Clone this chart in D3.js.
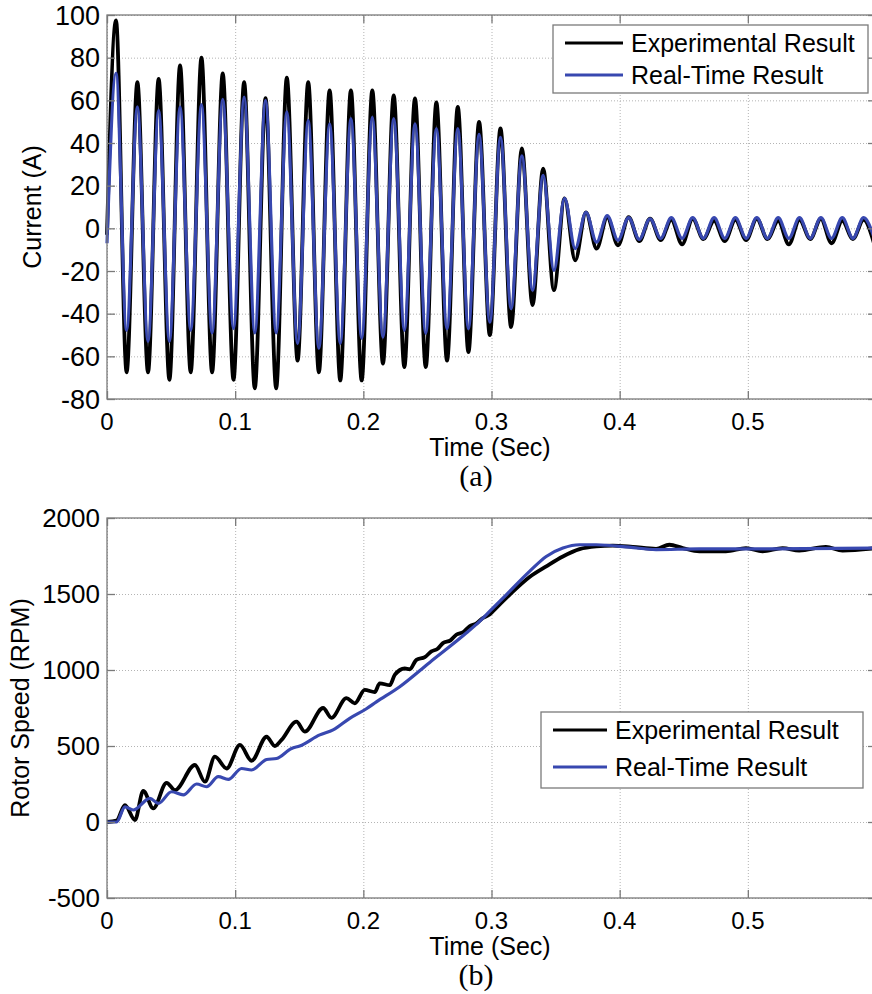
<!DOCTYPE html>
<html>
<head>
<meta charset="utf-8">
<script src="https://cdn.jsdelivr.net/npm/d3@7"></script>
<style>
  body { margin: 0; background: #fff; }
  svg { display: block; font-family: "Liberation Sans", Arial, sans-serif; }
</style>
</head>
<body>
<div id="chart"></div>
<script>
// ---- data ----
// panel (a): extremes of each half cycle (start, then peak / trough alternately)
const currentTime = [0, 0.0070, 0.0153, 0.0237, 0.0320, 0.0403, 0.0487, 0.0570, 0.0653, 0.0737, 0.0820,
  0.0903, 0.0987, 0.1070, 0.1153, 0.1237, 0.1320, 0.1403, 0.1487, 0.1570, 0.1653, 0.1737, 0.1820,
  0.1903, 0.1987, 0.2070, 0.2153, 0.2237, 0.2320, 0.2403, 0.2487, 0.2570, 0.2653, 0.2737, 0.2820,
  0.2903, 0.2987, 0.3070, 0.3153, 0.3237, 0.3320, 0.3403, 0.3487, 0.3570, 0.3653, 0.3737, 0.3820,
  0.3903, 0.3987, 0.4070, 0.4153, 0.4237, 0.4320, 0.4403, 0.4487, 0.4570, 0.4653, 0.4737, 0.4820,
  0.4903, 0.4987, 0.5070, 0.5153, 0.5237, 0.5320, 0.5403, 0.5487, 0.5570, 0.5653, 0.5737, 0.5820,
  0.5903, 0.5987];
const currentExp = [-3, 97.5, -67.5, 68.5, -67.5, 70, -71, 76.4, -67.5, 80, -67.5, 72.6, -71,
  68.5, -75, 61, -75, 70.6, -62, 68.5, -67.5, 64.7, -71.3, 64.7, -71.3, 64.7, -63.4, 62.3, -65,
  60.9, -65, 59, -62, 56.9, -58, 49.9, -50, 46.8, -46.3, 37.5, -36, 28, -29, 14, -15, 7.5, -9.5,
  5.2, -8, 5.2, -6, 4.5, -5.5, 4, -7.5, 4.5, -5, 3.5, -6, 4, -5.5, 4.5, -5, 3.5, -7.5, 4, -5,
  4.5, -7, 3.5, -5, 4, -7.5];
const currentRT = [-7, 72.6, -47.8, 57, -53, 55.3, -53, 57, -47.8, 58, -49, 60.5, -47,
  61.5, -49, 60, -49, 54.6, -54, 50.6, -56.3, 49, -54, 51.4, -51.6, 52, -51, 51.4, -47.8,
  49, -49.2, 46.8, -47, 46.8, -47, 44, -44, 42.7, -37.7, 34, -29, 24.8, -19.7, 14, -9.5, 7.5, -6.5,
  6, -5.6, 5, -5.2, 4.5, -4.7, 5, -4.7, 5, -4.7, 5, -4.7, 5, -4.7, 5, -4.7, 5, -4.7, 5, -4.7,
  5, -4.7, 5, -4.7, 5, -4.7];

// panel (b): rotor speed
const speedExpTime = [0, 0.0075, 0.014, 0.0218, 0.0283, 0.0361, 0.0465, 0.053, 0.0686, 0.0764,
  0.0842, 0.0933, 0.1037, 0.1128, 0.1245, 0.131, 0.1362, 0.1478, 0.1543, 0.1686, 0.1751, 0.1868,
  0.1933, 0.2011, 0.2089, 0.2128, 0.2206, 0.2245, 0.2323, 0.2362, 0.2414, 0.248, 0.2531, 0.258,
  0.2621, 0.268, 0.2725, 0.278, 0.2829, 0.288, 0.2933, 0.2985, 0.3037, 0.3141, 0.3297, 0.3427,
  0.3557, 0.3687, 0.3817, 0.3947, 0.4102, 0.4284, 0.4388, 0.4492, 0.4622, 0.4829, 0.4986, 0.5115,
  0.5271, 0.5401, 0.5609, 0.5739, 0.6];
const speedExp = [0, 10, 111, 13, 205, 90, 258, 210, 375, 265, 430, 352, 507, 403, 561, 500, 540,
  660, 594, 750, 685, 815, 781, 869, 855, 912, 900, 968, 1010, 1005, 1067, 1085, 1122, 1140,
  1177, 1195, 1232, 1250, 1287, 1305, 1342, 1365, 1409, 1495, 1612, 1682, 1747, 1795, 1813, 1818,
  1810, 1797, 1824, 1802, 1780, 1780, 1802, 1780, 1802, 1786, 1810, 1786, 1802];
const speedRTTime = [0, 0.0075, 0.014, 0.0205, 0.0335, 0.040, 0.0504, 0.0595, 0.0699, 0.0777,
  0.0868, 0.0946, 0.105, 0.1128, 0.1245, 0.1323, 0.144, 0.1504, 0.166, 0.1764, 0.1894, 0.2024,
  0.2102, 0.2284, 0.2518, 0.2803, 0.2907, 0.2985, 0.3115, 0.3297, 0.3427, 0.3557, 0.3687, 0.3817,
  0.4076, 0.4284, 0.4622, 0.5, 0.6];
const speedRT = [0, 0, 100, 79, 156, 122, 199, 178, 250, 232, 298, 280, 352, 342, 411, 418, 484,
  500, 573, 606, 682, 745, 790, 890, 1050, 1243, 1320, 1385, 1495, 1649, 1747, 1802, 1824, 1824,
  1808, 1792, 1797, 1797, 1802];

const xTicks = [0, 0.1, 0.2, 0.3, 0.4, 0.5];
const currentTicks = [-80, -60, -40, -20, 0, 20, 40, 60, 80, 100];
const speedTicks = [-500, 0, 500, 1000, 1500, 2000];
const seriesNames = ["Experimental Result", "Real-Time Result"];
const seriesColors = ["#000000", "#3848b0"];

const svg = d3.select("#chart")
  .append("svg")
  .attr("width", 872)
  .attr("height", 994);

function drawPanel(opts) {
  const { left, top, width, height } = opts;
  const g = svg.append("g").attr("transform", `translate(${left},${top})`);

  const x = d3.scaleLinear().domain([0, 0.6]).range([0, width]);
  const y = d3.scaleLinear().domain(opts.yDomain).range([height, 0]);

  // dotted grid
  g.append("g")
    .attr("class", "grid")
    .call(d3.axisLeft(y).tickValues(opts.yTicks).tickSize(-width).tickFormat(""))
    .call(s => s.select(".domain").remove());
  g.append("g")
    .attr("class", "grid")
    .attr("transform", `translate(0,${height})`)
    .call(d3.axisBottom(x).tickValues(xTicks).tickSize(-height).tickFormat(""))
    .call(s => s.select(".domain").remove());
  g.selectAll(".grid line")
    .attr("stroke", "#b4b4b4")
    .attr("stroke-width", 1)
    .attr("stroke-dasharray", "1,2");

  // lines
  opts.series.forEach((s, i) => {
    const pts = s.t.map((t, j) => [t, s.v[j]]);
    g.append("path")
      .datum(pts)
      .attr("fill", "none")
      .attr("stroke", seriesColors[i])
      .attr("stroke-width", i === 0 ? 3.8 : 3.2)
      .attr("stroke-linejoin", "round")
      .attr("d", d3.line()
        .x(d => x(d[0]))
        .y(d => y(d[1]))
        .curve(d3.curveMonotoneX));
  });

  // box + inward ticks
  const axisColor = "#7a7a7a";
  g.append("rect")
    .attr("width", width).attr("height", height)
    .attr("fill", "none").attr("stroke", axisColor).attr("stroke-width", 1.3);
  const tickLen = 8;
  const inward = [
    g.append("g").call(d3.axisLeft(y).tickValues(opts.yTicks).tickSize(-tickLen).tickFormat("")),
    g.append("g").attr("transform", `translate(${width},0)`)
      .call(d3.axisRight(y).tickValues(opts.yTicks).tickSize(-tickLen).tickFormat("")),
    g.append("g").attr("transform", `translate(0,${height})`)
      .call(d3.axisBottom(x).tickValues(xTicks).tickSize(-tickLen).tickFormat("")),
    g.append("g").call(d3.axisTop(x).tickValues(xTicks).tickSize(-tickLen).tickFormat(""))
  ];
  inward.forEach(a => {
    a.select(".domain").remove();
    a.selectAll("line").attr("stroke", axisColor).attr("stroke-width", 1.3);
  });

  // tick labels
  g.append("g")
    .selectAll("text")
    .data(opts.yTicks)
    .join("text")
    .attr("x", -7)
    .attr("y", d => y(d))
    .attr("dy", "0.36em")
    .attr("text-anchor", "end")
    .style("font-size", opts.yTickSize + "px")
    .text(d => d);
  g.append("g")
    .selectAll("text")
    .data(xTicks)
    .join("text")
    .attr("x", d => x(d))
    .attr("y", height + 31)
    .attr("text-anchor", "middle")
    .style("font-size", "24px")
    .text(d => d);

  // axis titles
  g.append("text")
    .attr("transform", `translate(${opts.yLabelX},${height / 2}) rotate(-90)`)
    .attr("text-anchor", "middle")
    .style("font-size", "25px")
    .text(opts.yLabel);
  g.append("text")
    .attr("x", 383)
    .attr("y", height + 57)
    .attr("text-anchor", "middle")
    .style("font-size", "25px")
    .text("Time (Sec)");
  g.append("text")
    .attr("x", 369)
    .attr("y", height + 87)
    .attr("text-anchor", "middle")
    .style("font-family", "'Liberation Serif', 'Times New Roman', serif")
    .style("font-size", "30px")
    .text(opts.caption);

  // legend
  const lg = g.append("g").attr("transform", `translate(${opts.legend[0]},${opts.legend[1]})`);
  lg.append("rect")
    .attr("width", opts.legend[2]).attr("height", opts.legend[3])
    .attr("fill", "#fff").attr("stroke", axisColor).attr("stroke-width", 1.3);
  seriesNames.forEach((name, i) => {
    const cy = opts.legendRows[i];
    lg.append("line")
      .attr("x1", 12).attr("x2", opts.legendLine)
      .attr("y1", cy).attr("y2", cy)
      .attr("stroke", seriesColors[i]).attr("stroke-width", 3);
    lg.append("text")
      .attr("x", opts.legendLine + 8)
      .attr("y", cy + 9)
      .style("font-size", "25px")
      .text(name);
  });
}

drawPanel({
  left: 107, top: 15, width: 769, height: 384,
  yDomain: [-80, 100], yTicks: currentTicks, yTickSize: 27,
  yLabel: "Current (A)", yLabelX: -66, caption: "(a)",
  series: [{ t: currentTime, v: currentExp }, { t: currentTime, v: currentRT }],
  legend: [446, 10, 315, 68], legendRows: [18, 50], legendLine: 70
});

drawPanel({
  left: 107, top: 518, width: 769, height: 380,
  yDomain: [-500, 2000], yTicks: speedTicks, yTickSize: 26,
  yLabel: "Rotor Speed (RPM)", yLabelX: -78, caption: "(b)",
  series: [{ t: speedExpTime, v: speedExp }, { t: speedRTTime, v: speedRT }],
  legend: [434, 194, 322, 76], legendRows: [18, 55], legendLine: 66
});
</script>
</body>
</html>
